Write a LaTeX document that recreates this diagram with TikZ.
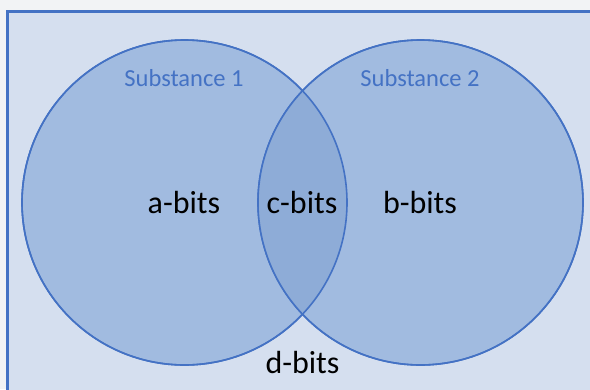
\documentclass[tikz,border=0pt]{standalone}
\usepackage{fontspec}
\setmainfont{Carlito}
\definecolor{pagebg}{HTML}{F2F3F5}
\definecolor{panelbg}{HTML}{D5DFEF}
\definecolor{accent}{HTML}{4472C4}
\definecolor{setfill}{HTML}{A1BBE0}
\definecolor{overlapfill}{HTML}{8EACD7}
\begin{document}
\begin{tikzpicture}[x=1pt,y=-1pt,
  setcircle/.style={circle, draw=accent, line width=1.6pt, fill=setfill, minimum size=325pt, inner sep=0pt},
  setname/.style={text=accent, font=\fontsize{24.5}{28}\selectfont, anchor=base},
  bitlabel/.style={text=black, font=\fontsize{32}{38}\selectfont, anchor=base}]
  \useasboundingbox (0,0) rectangle (590,389);
  \fill[pagebg] (0,0) rectangle (590,389);
  \clip (0,0) rectangle (590,389);
  % panel
  \draw[accent, fill=panelbg, line width=3pt] (7.5,11.5) rectangle (620,420);
  % the two sets
  \node[setcircle] (s1) at (184.5,202.5) {};
  \node[setcircle] (s2) at (420.5,202.5) {};
  % overlap region
  \begin{scope}
    \clip (184.5,202.5) circle[radius=162.5pt];
    \fill[overlapfill] (420.5,202.5) circle[radius=162.5pt];
  \end{scope}
  \draw[accent, line width=1.6pt] (184.5,202.5) circle[radius=162.5pt];
  \draw[accent, line width=1.6pt] (420.5,202.5) circle[radius=162.5pt];
  % labels
  \node[setname] (n1) at (184,86) {Substance 1};
  \node[setname] (n2) at (420,86) {Substance 2};
  \node[bitlabel] (a) at (184,213) {a-bits};
  \node[bitlabel] (c) at (302,213) {c-bits};
  \node[bitlabel] (b) at (420,213) {b-bits};
  \node[bitlabel] (d) at (302.5,373) {d-bits};
\end{tikzpicture}
\end{document}
